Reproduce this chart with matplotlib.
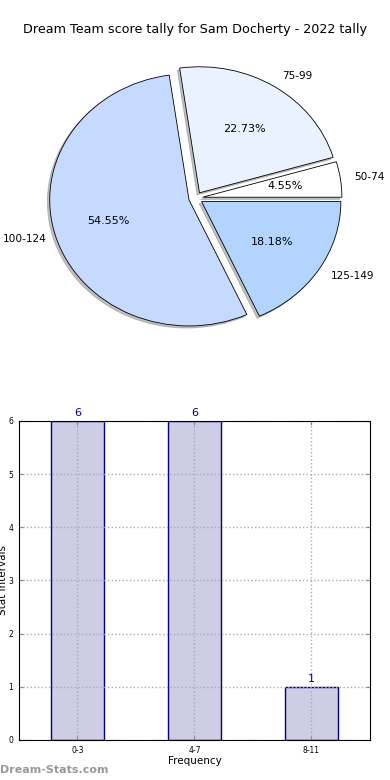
import matplotlib
matplotlib.use("Agg")
import matplotlib.pyplot as plt

title = "Dream Team score tally for Sam Docherty - 2022 tally"
pie_labels = ["50-74", "75-99", "100-124", "125-149"]
pie_values = [1, 5, 12, 4]
pie_colors = ["#ffffff", "#eaf1ff", "#c6d9ff", "#b3d4ff"]

bar_cats = ["0-3", "4-7", "8-11"]
bar_vals = [6, 6, 1]

fig = plt.figure(figsize=(3.9, 7.8), dpi=100)

ax1 = fig.add_axes([0.0553, 0.544, 0.893, 0.404])
wedges, texts, autotexts = ax1.pie(
    pie_values, labels=pie_labels, colors=pie_colors, explode=[0.05] * 4,
    autopct="%1.2f%%", shadow=dict(ox=-0.012, oy=-0.012, color="#808080"),
    startangle=0,
    wedgeprops=dict(edgecolor="black", linewidth=0.6),
    textprops=dict(fontsize=8))
for t in texts:
    t.set_fontsize(7.6)
# keep the left label inside the figure
px, py = texts[2].get_position()
texts[2].set_position((px + 0.03, py))
ax1.set_xlim(-1.25, 1.25)
ax1.set_ylim(-1.25, 1.25)
ax1.set_aspect("auto")
ax1.axis("off")
fig.text(0.5, 0.962, title, ha="center", va="center", fontsize=9.2)

ax2 = fig.add_axes([0.0487, 0.0513, 0.9, 0.409])
x = list(range(len(bar_cats)))
ax2.bar(x, bar_vals, width=0.45, color="#cdcde5", edgecolor="#00008b", linewidth=1, zorder=1)
for xi, v in zip(x, bar_vals):
    ax2.text(xi, v + 0.06, str(v), ha="center", va="bottom", fontsize=8, color="#00008b")
ax2.set_xlim(-0.5, 2.5)
ax2.set_ylim(0, 6)
ax2.set_xticks(x)
ax2.set_xticklabels(bar_cats)
ax2.set_yticks(range(0, 7))
ax2.tick_params(labelsize=5.5, direction="in", length=3, pad=4,
                top=True, right=True, color="#888888")
ax2.set_axisbelow(False)
ax2.grid(True, linestyle=":", color="#a8a8b8", linewidth=1, zorder=3)
ax2.set_xlabel("Frequency", fontsize=7.5, labelpad=1)
ax2.set_ylabel("Stat Intervals", fontsize=7.5)
ax2.yaxis.set_label_coords(-0.03, 0.5)
for s in ax2.spines.values():
    s.set_linewidth(0.8)
    s.set_zorder(5)

fig.text(0.0, 0.013, "Dream-Stats.com", fontsize=8, color="#999999", fontweight="bold", ha="left", va="center")

fig.savefig("out.png", dpi=100)
